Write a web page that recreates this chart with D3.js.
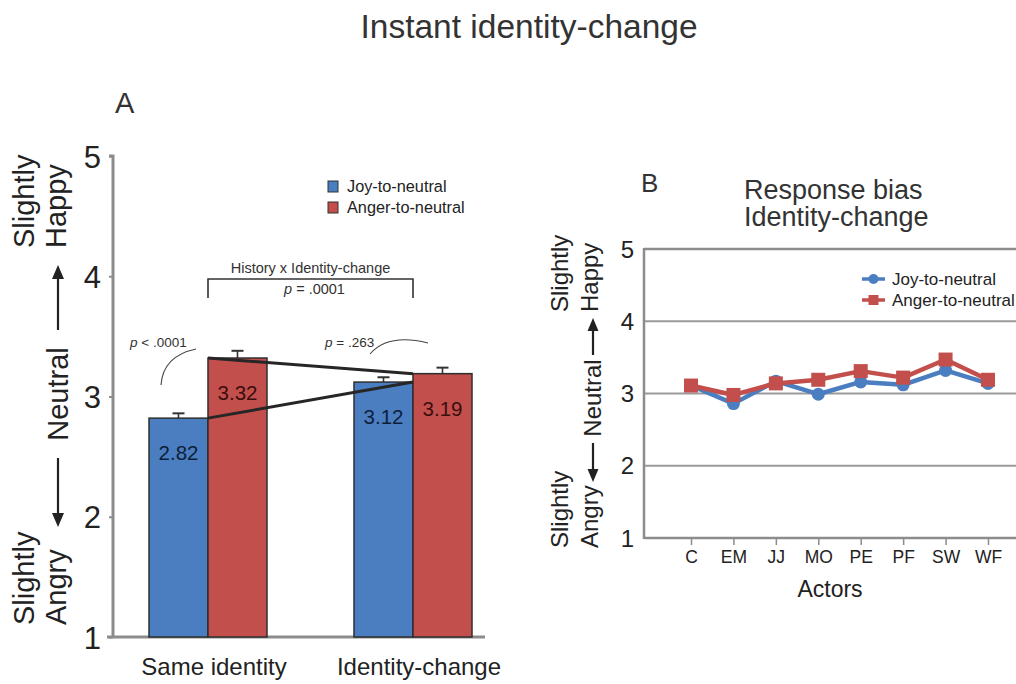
<!DOCTYPE html>
<html>
<head>
<meta charset="utf-8">
<script src="https://cdn.jsdelivr.net/npm/d3@7"></script>
<style>
  html, body { margin: 0; padding: 0; background: #fff; }
  svg { display: block; font-family: "Liberation Sans", Arial, Helvetica, sans-serif; }
</style>
</head>
<body>
<svg id="chart" width="1016" height="684"></svg>
<script>
// ---- Panel A: mean ratings by history and identity condition ----
const groups = ["Same identity", "Identity-change"];
const series = ["Joy-to-neutral", "Anger-to-neutral"];
const joyMeans = [2.82, 3.12];
const angerMeans = [3.32, 3.19];
const joyErr = [0.04, 0.04];
const angerErr = [0.06, 0.05];
const yTicksA = [1, 2, 3, 4, 5];

// ---- Panel B: response bias per actor ----
const actors = ["C", "EM", "JJ", "MO", "PE", "PF", "SW", "WF"];
const joyByActor = [3.11, 2.86, 3.17, 2.99, 3.16, 3.12, 3.32, 3.14];
const angerByActor = [3.11, 2.98, 3.14, 3.19, 3.31, 3.22, 3.47, 3.19];
const yTicksB = [1, 2, 3, 4, 5];

const BLUE = "#4a7ec0";
const RED = "#c24f4c";
const AXIS = "#8c8c8c";
const INK = "#222";

const svg = d3.select("#chart");

// Main title
svg.append("text").attr("x", 529).attr("y", 38).attr("text-anchor", "middle")
  .attr("font-size", 33.5).attr("fill", "#333").text("Instant identity-change");

// Arrow helper for the rotated rating-scale labels
function arrow(g, x, y1, y2, head, width) {
  const dir = y2 < y1 ? -1 : 1;
  g.append("line").attr("x1", x).attr("x2", x).attr("y1", y1).attr("y2", y2 - dir * head)
    .attr("stroke", INK).attr("stroke-width", 2.2);
  g.append("path")
    .attr("d", `M${x},${y2} L${x - width / 2},${y2 - dir * head} L${x + width / 2},${y2 - dir * head} Z`)
    .attr("fill", INK);
}

function vText(g, x, y, txt, size) {
  g.append("text").attr("transform", `translate(${x},${y}) rotate(-90)`)
    .attr("font-size", size).attr("fill", INK).text(txt);
}

// ================= Panel A =================
const A = svg.append("g");
const yA = d3.scaleLinear().domain([1, 5]).range([637, 156]);
const xGroup = d3.scaleBand().domain(groups).range([149, 472]).paddingInner(0.4244);
const xSeries = d3.scaleBand().domain(series).range([0, xGroup.bandwidth()]);

A.append("text").attr("x", 115).attr("y", 113).attr("font-size", 29).attr("fill", "#333").text("A");

// Axis lines
const axA = A.append("g").attr("transform", "translate(113,0)")
  .call(d3.axisLeft(yA).tickValues(yTicksA).tickSize(4).tickPadding(8).tickFormat(d3.format("d")));
axA.select(".domain").attr("stroke", AXIS).attr("stroke-width", 3).attr("d", `M-4,${yA(5)}H0V${yA(1)}`);
axA.selectAll(".tick line").attr("stroke", AXIS).attr("stroke-width", 2);
axA.selectAll(".tick text").attr("font-size", 31).attr("fill", INK).attr("font-family", null)
  .attr("dy", "0.36em");
A.append("line").attr("x1", 107).attr("x2", 485).attr("y1", yA(1)).attr("y2", yA(1))
  .attr("stroke", AXIS).attr("stroke-width", 3);

// Rating-scale side labels
vText(A, 34, 248, "Slightly", 29);
vText(A, 66, 248, "Happy", 29);
arrow(A, 58, 330, 265, 14, 12);
A.append("text").attr("transform", "translate(68,394) rotate(-90)").attr("text-anchor", "middle")
  .attr("font-size", 29).attr("fill", INK).text("Neutral");
arrow(A, 58, 458, 527, 14, 12);
vText(A, 34, 625, "Slightly", 29);
vText(A, 66, 625, "Angry", 29);

// Bars
const barData = [];
groups.forEach((g, i) => {
  barData.push({ group: g, series: series[0], value: joyMeans[i], err: joyErr[i], color: BLUE, label: "#0f1f3a" });
  barData.push({ group: g, series: series[1], value: angerMeans[i], err: angerErr[i], color: RED, label: "#3a0e0e" });
});
const bars = A.selectAll(".bar").data(barData).join("g");
bars.append("line")
  .attr("x1", d => xGroup(d.group) + xSeries(d.series) + xSeries.bandwidth() / 2)
  .attr("x2", d => xGroup(d.group) + xSeries(d.series) + xSeries.bandwidth() / 2)
  .attr("y1", d => yA(d.value)).attr("y2", d => yA(d.value + d.err))
  .attr("stroke", "#333").attr("stroke-width", 1.6);
bars.append("line")
  .attr("x1", d => xGroup(d.group) + xSeries(d.series) + xSeries.bandwidth() / 2 - 6)
  .attr("x2", d => xGroup(d.group) + xSeries(d.series) + xSeries.bandwidth() / 2 + 6)
  .attr("y1", d => yA(d.value + d.err)).attr("y2", d => yA(d.value + d.err))
  .attr("stroke", "#333").attr("stroke-width", 2);
bars.append("rect")
  .attr("x", d => xGroup(d.group) + xSeries(d.series))
  .attr("y", d => yA(d.value))
  .attr("width", xSeries.bandwidth())
  .attr("height", d => yA(1) - yA(d.value))
  .attr("fill", d => d.color).attr("stroke", "#2e2e2e").attr("stroke-width", 1.5);

// Interaction lines joining the condition means
const boundary = g => xGroup(g) + xSeries.bandwidth();
const lineA = d3.line().x(d => boundary(d.g)).y(d => yA(d.v));
[joyMeans, angerMeans].forEach(vals => {
  A.append("path").datum(groups.map((g, i) => ({ g, v: vals[i] })))
    .attr("d", lineA).attr("fill", "none").attr("stroke", "#262626").attr("stroke-width", 3);
});

// Value labels inside bars
bars.append("text")
  .attr("x", d => xGroup(d.group) + xSeries(d.series) + xSeries.bandwidth() / 2)
  .attr("y", d => yA(d.value) + 42)
  .attr("text-anchor", "middle").attr("font-size", 20.5).attr("fill", d => d.label)
  .text(d => d.value.toFixed(2));

// Category labels
A.selectAll(".cat").data(groups).join("text")
  .attr("x", d => xGroup(d) + xGroup.bandwidth() / 2 + 6).attr("y", 675)
  .attr("text-anchor", "middle").attr("font-size", 24).attr("fill", INK).text(d => d);

// Interaction bracket
const bx0 = boundary(groups[0]), bx1 = boundary(groups[1]);
A.append("path").attr("d", `M${bx0},298V279H${bx1}V298`).attr("fill", "none")
  .attr("stroke", "#333").attr("stroke-width", 1.6);
A.append("text").attr("x", (bx0 + bx1) / 2).attr("y", 273).attr("text-anchor", "middle")
  .attr("font-size", 14.5).attr("fill", "#333").text("History x Identity-change");
const pMain = A.append("text").attr("x", (bx0 + bx1) / 2 + 4).attr("y", 294).attr("text-anchor", "middle")
  .attr("font-size", 14.5).attr("fill", "#333");
pMain.append("tspan").attr("font-style", "italic").text("p");
pMain.append("tspan").text(" = .0001");

// Simple-effect annotations
const pLeft = A.append("text").attr("x", 130).attr("y", 347).attr("font-size", 13.5).attr("fill", "#333");
pLeft.append("tspan").attr("font-style", "italic").text("p");
pLeft.append("tspan").text(" < .0001");
A.append("path").attr("d", "M161,385 Q163,356 196,349").attr("fill", "none").attr("stroke", "#444").attr("stroke-width", 1.1);
const pRight = A.append("text").attr("x", 325).attr("y", 347).attr("font-size", 13.5).attr("fill", "#333");
pRight.append("tspan").attr("font-style", "italic").text("p");
pRight.append("tspan").text(" = .263");
A.append("path").attr("d", "M370,354 Q388,333 428,343").attr("fill", "none").attr("stroke", "#444").attr("stroke-width", 1.1);

// Legend A
const legA = A.append("g");
series.forEach((s, i) => {
  legA.append("rect").attr("x", 328).attr("y", 181 + i * 21).attr("width", 10).attr("height", 11)
    .attr("fill", i === 0 ? BLUE : RED).attr("stroke", "#333").attr("stroke-width", 1);
  legA.append("text").attr("x", 347).attr("y", 192 + i * 21).attr("font-size", 16.3).attr("fill", INK).text(s);
});

// ================= Panel B =================
const B = svg.append("g");
const xB = d3.scalePoint().domain(actors).range([691, 988]);
const yB = d3.scaleLinear().domain([1, 5]).range([538, 249]);

B.append("text").attr("x", 641).attr("y", 192).attr("font-size", 26).attr("fill", "#333").text("B");
B.append("text").attr("x", 744).attr("y", 199).attr("font-size", 27).attr("fill", "#333").text("Response bias");
B.append("text").attr("x", 744).attr("y", 226).attr("font-size", 27).attr("fill", "#333").text("Identity-change");

// Gridlines at each rating value
B.append("g").selectAll("line").data(yTicksB.filter(d => d > 1)).join("line")
  .attr("x1", 644).attr("x2", 1016).attr("y1", d => yB(d)).attr("y2", d => yB(d))
  .attr("stroke", d => d === 5 ? AXIS : "#9a9a9a").attr("stroke-width", d => d === 5 ? 2.5 : 2);
// Frame: left axis and baseline
B.append("line").attr("x1", 644).attr("x2", 644).attr("y1", yB(5) - 1).attr("y2", yB(1) + 1)
  .attr("stroke", AXIS).attr("stroke-width", 2.5);
const axBx = B.append("g").attr("transform", `translate(0,${yB(1)})`)
  .call(d3.axisBottom(xB).tickSize(7).tickPadding(6));
axBx.select(".domain").attr("stroke", AXIS).attr("stroke-width", 2.5).attr("d", "M644,0H1016");
axBx.selectAll(".tick line").attr("stroke", AXIS).attr("stroke-width", 1.5);
axBx.selectAll(".tick text").attr("font-size", 17.5).attr("fill", INK).attr("font-family", null);

// Y tick labels
B.append("g").selectAll("text").data(yTicksB).join("text")
  .attr("x", 634).attr("y", d => yB(d)).attr("dy", "0.36em").attr("text-anchor", "end")
  .attr("font-size", 24).attr("fill", INK).text(d => d);

B.append("text").attr("x", 830).attr("y", 597).attr("text-anchor", "middle")
  .attr("font-size", 23).attr("fill", INK).text("Actors");

// Rating-scale side labels
vText(B, 568, 312, "Slightly", 24);
vText(B, 598, 312, "Happy", 24);
arrow(B, 593, 355, 318, 13, 11);
B.append("text").attr("transform", "translate(601,398) rotate(-90)").attr("text-anchor", "middle")
  .attr("font-size", 24).attr("fill", INK).text("Neutral");
arrow(B, 593, 443, 482, 13, 11);
vText(B, 568, 548, "Slightly", 24);
vText(B, 598, 548, "Angry", 24);

// Series lines and markers
const lineB = d3.line().x((d, i) => xB(actors[i])).y(d => yB(d));
B.append("path").datum(joyByActor).attr("d", lineB).attr("fill", "none")
  .attr("stroke", BLUE).attr("stroke-width", 4.5).attr("stroke-linejoin", "round");
B.append("g").selectAll("circle").data(joyByActor).join("circle")
  .attr("cx", (d, i) => xB(actors[i])).attr("cy", d => yB(d)).attr("r", 6.5).attr("fill", BLUE);
B.append("path").datum(angerByActor).attr("d", lineB).attr("fill", "none")
  .attr("stroke", RED).attr("stroke-width", 4.5).attr("stroke-linejoin", "round");
B.append("g").selectAll("rect").data(angerByActor).join("rect")
  .attr("x", (d, i) => xB(actors[i]) - 7).attr("y", d => yB(d) - 7)
  .attr("width", 14).attr("height", 14).attr("fill", RED);

// Legend B
const legB = B.append("g");
legB.append("line").attr("x1", 862).attr("x2", 885).attr("y1", 279).attr("y2", 279).attr("stroke", BLUE).attr("stroke-width", 3.5);
legB.append("circle").attr("cx", 873.5).attr("cy", 279).attr("r", 5).attr("fill", BLUE);
legB.append("line").attr("x1", 862).attr("x2", 885).attr("y1", 300).attr("y2", 300).attr("stroke", RED).attr("stroke-width", 3.5);
legB.append("rect").attr("x", 868.5).attr("y", 295).attr("width", 10).attr("height", 10).attr("fill", RED);
legB.append("text").attr("x", 892).attr("y", 285).attr("font-size", 17).attr("fill", INK).text(series[0]);
legB.append("text").attr("x", 892).attr("y", 306).attr("font-size", 17).attr("fill", INK).text(series[1]);
</script>
</body>
</html>
